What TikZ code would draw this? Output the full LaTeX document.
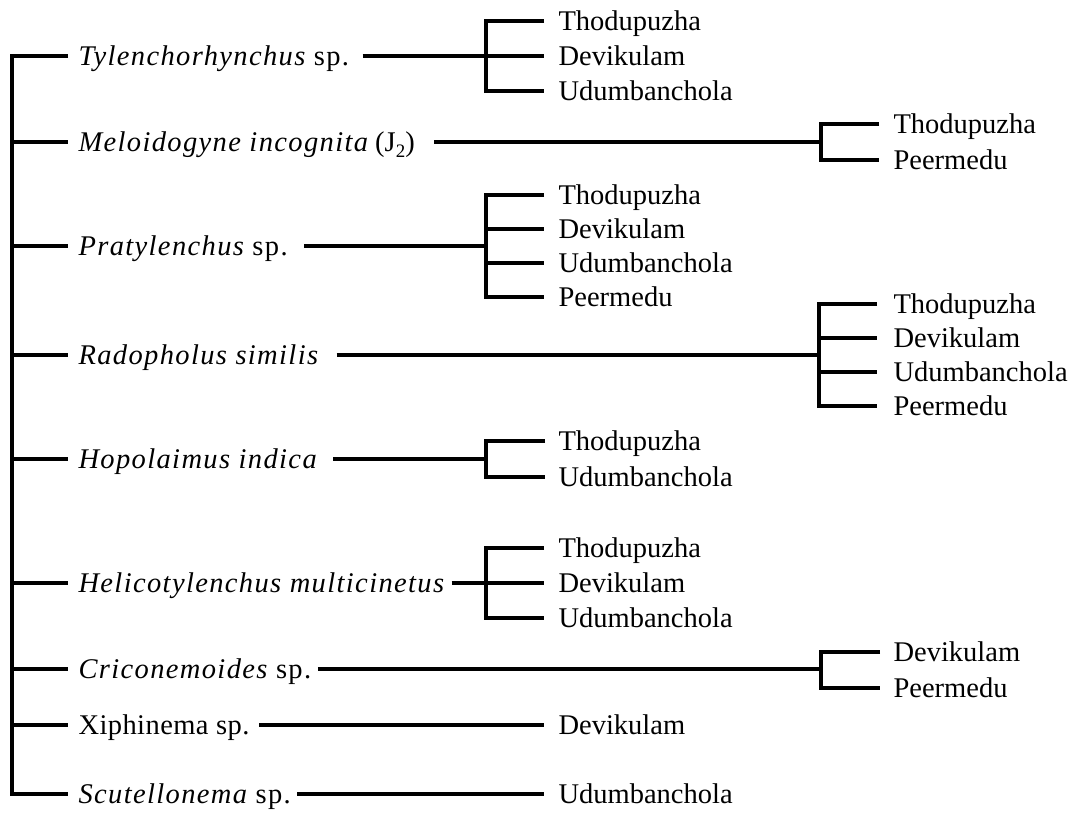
\documentclass[tikz,border=0pt]{standalone}
\usepackage{fontspec}
\setmainfont{Liberation Serif}
\newfontfamily\lsfont{Liberation Serif}[LetterSpace=4.8]
\newfontfamily\lsrm{Liberation Serif}[LetterSpace=1.5]
\begin{document}
\begin{tikzpicture}[x=1pt,y=-1pt,line width=3.1pt,line join=miter,
  lbl/.style={anchor=base west,inner sep=0pt,font=\fontsize{28.5}{33}\selectfont},
  sp/.style={lbl}]
\useasboundingbox (0,0) rectangle (1073,812);
% species labels
\node[sp] (n1) at (77,65) {{\lsfont{\itshape Tylenchorhynchus} sp.}};
\node[sp] (n2) at (77,151) {{\lsfont\itshape Meloidogyne incognita} (J\raisebox{-6pt}{\fontsize{19}{19}\selectfont 2})};
\node[sp] (n3) at (77,255) {{\lsfont{\itshape Pratylenchus} sp.}};
\node[sp] (n4) at (77,364) {{\lsfont\itshape Radopholus similis}};
\node[sp] (n5) at (77,468) {{\lsfont\itshape Hopolaimus indica}};
\node[sp] (n6) at (77,592) {{\lsfont\itshape Helicotylenchus multicinetus}};
\node[sp] (n7) at (77,678) {{\lsfont{\itshape Criconemoides} sp.}};
\node[sp] (n8) at (77,734) {{\lsrm Xiphinema sp.}};
\node[sp] (n9) at (77,803) {{\lsfont{\itshape Scutellonema} sp.}};
% trunk
\coordinate (r1) at (12,56);
\coordinate (r2) at (12,142);
\coordinate (r3) at (12,246);
\coordinate (r4) at (12,355);
\coordinate (r5) at (12,459);
\coordinate (r6) at (12,583);
\coordinate (r7) at (12,669);
\coordinate (r8) at (12,725);
\coordinate (r9) at (12,794);
\draw ([xshift=-9pt]n1.west |- r1) -- (r1) -- (r9) -- ([xshift=-9pt]n9.west |- r9);
\foreach \i in {2,...,8} \draw (r\i) -- ([xshift=-9pt]n\i.west |- r\i);
% location labels
\node[lbl] (a1a) at (557,30) {Thodupuzha};
\node[lbl] (a1b) at (557,65) {Devikulam};
\node[lbl] (a1c) at (557,100) {Udumbanchola};
\node[lbl] (a2a) at (892,133) {Thodupuzha};
\node[lbl] (a2b) at (892,169) {Peermedu};
\node[lbl] (a3a) at (557,204) {Thodupuzha};
\node[lbl] (a3b) at (557,238) {Devikulam};
\node[lbl] (a3c) at (557,272) {Udumbanchola};
\node[lbl] (a3d) at (557,306) {Peermedu};
\node[lbl] (a4a) at (892,313) {Thodupuzha};
\node[lbl] (a4b) at (892,347) {Devikulam};
\node[lbl] (a4c) at (892,381) {Udumbanchola};
\node[lbl] (a4d) at (892,415) {Peermedu};
\node[lbl] (a5a) at (557,450) {Thodupuzha};
\node[lbl] (a5b) at (557,486) {Udumbanchola};
\node[lbl] (a6a) at (557,557) {Thodupuzha};
\node[lbl] (a6b) at (557,592) {Devikulam};
\node[lbl] (a6c) at (557,627) {Udumbanchola};
\node[lbl] (a7a) at (892,661) {Devikulam};
\node[lbl] (a7b) at (892,697) {Peermedu};
\node[lbl] (a8) at (557,734) {Devikulam};
\node[lbl] (a9) at (557,803) {Udumbanchola};
% bracket points
\coordinate (k1a) at (486,21); \coordinate (k1) at (486,56); \coordinate (k1c) at (486,91);
\coordinate (k2a) at (821,124); \coordinate (k2) at (821,142); \coordinate (k2b) at (821,160);
\coordinate (k3a) at (486,195); \coordinate (k3b) at (486,229); \coordinate (k3) at (486,246);
\coordinate (k3c) at (486,263); \coordinate (k3d) at (486,297);
\coordinate (k4a) at (819,304); \coordinate (k4b) at (819,338); \coordinate (k4) at (819,355);
\coordinate (k4c) at (819,372); \coordinate (k4d) at (819,406);
\coordinate (k5a) at (486,441); \coordinate (k5) at (486,459); \coordinate (k5b) at (486,477);
\coordinate (k6a) at (486,548); \coordinate (k6) at (486,583); \coordinate (k6c) at (486,618);
\coordinate (k7a) at (821,652); \coordinate (k7) at (821,669); \coordinate (k7b) at (821,688);
% species to brackets
\draw ([xshift=12pt]n1.east |- r1) -- (k1) -- ([xshift=-13pt]a1b.west |- k1);
\draw ([xshift=18pt]n2.east |- r2) -- (k2);
\draw ([xshift=15pt]n3.east |- r3) -- (k3);
\draw ([xshift=17pt]n4.east |- r4) -- (k4);
\draw ([xshift=15pt]n5.east |- r5) -- (k5);
\draw ([xshift=6pt]n6.east |- r6) -- (k6) -- ([xshift=-13pt]a6b.west |- k6);
\draw ([xshift=5pt]n7.east |- r7) -- (k7);
\draw ([xshift=8pt]n8.east |- r8) -- ([xshift=-13pt]a8.west |- r8);
\draw ([xshift=5pt]n9.east |- r9) -- ([xshift=-13pt]a9.west |- r9);
% brackets
\draw ([xshift=-13pt]a1a.west |- k1a) -- (k1a) -- (k1c) -- ([xshift=-13pt]a1c.west |- k1c);
\draw ([xshift=-13pt]a2a.west |- k2a) -- (k2a) -- (k2b) -- ([xshift=-13pt]a2b.west |- k2b);
\draw ([xshift=-13pt]a3a.west |- k3a) -- (k3a) -- (k3d) -- ([xshift=-13pt]a3d.west |- k3d);
\draw (k3b) -- ([xshift=-13pt]a3b.west |- k3b);
\draw (k3c) -- ([xshift=-13pt]a3c.west |- k3c);
\draw ([xshift=-15pt]a4a.west |- k4a) -- (k4a) -- (k4d) -- ([xshift=-15pt]a4d.west |- k4d);
\draw (k4b) -- ([xshift=-15pt]a4b.west |- k4b);
\draw (k4c) -- ([xshift=-15pt]a4c.west |- k4c);
\draw ([xshift=-12pt]a5a.west |- k5a) -- (k5a) -- (k5b) -- ([xshift=-12pt]a5b.west |- k5b);
\draw ([xshift=-13pt]a6a.west |- k6a) -- (k6a) -- (k6c) -- ([xshift=-13pt]a6c.west |- k6c);
\draw ([xshift=-12pt]a7a.west |- k7a) -- (k7a) -- (k7b) -- ([xshift=-12pt]a7b.west |- k7b);
\end{tikzpicture}
\end{document}
